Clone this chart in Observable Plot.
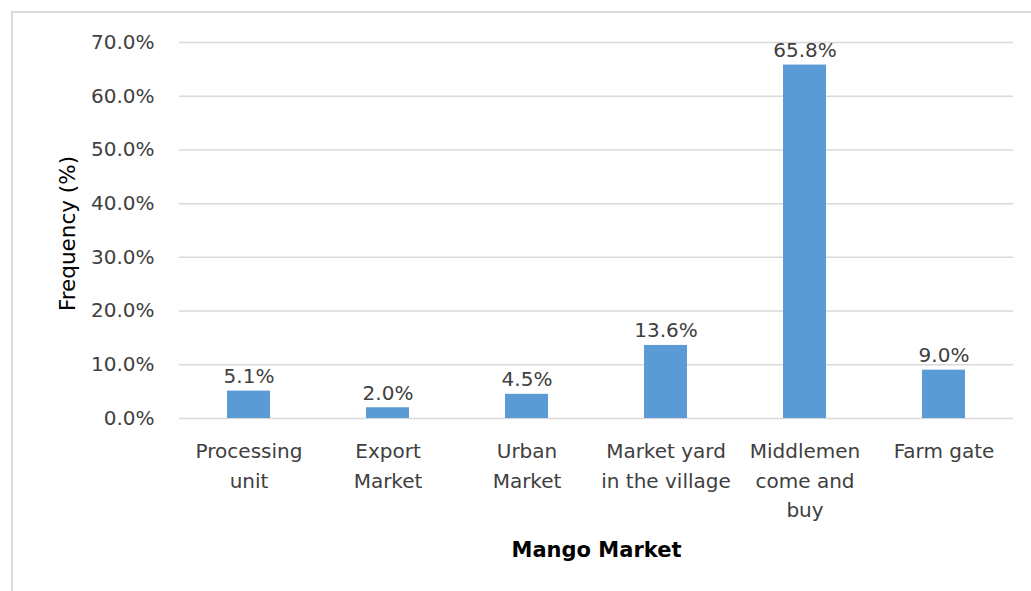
<!DOCTYPE html>
<html>
<head>
<meta charset="utf-8">
<script src="https://cdn.jsdelivr.net/npm/d3@7"></script>
<script src="https://cdn.jsdelivr.net/npm/@observablehq/plot@0.6"></script>
<style>
  html, body { margin: 0; padding: 0; background: #fff; width: 1031px; height: 591px; overflow: hidden; }
  #frame { position: absolute; left: 11px; top: 11px; width: 1040px; height: 600px; border: 2px solid #d9d9d9; box-sizing: border-box; }
  #chart { position: absolute; left: 0; top: 0; }
</style>
</head>
<body>
<div id="frame"></div>
<div id="chart"></div>
<script>
const categories = ["Processing unit", "Export Market", "Urban Market", "Market yard in the village", "Middlemen come and buy", "Farm gate"];
const tickLabels = ["Processing\nunit", "Export\nMarket", "Urban\nMarket", "Market yard\nin the village", "Middlemen\ncome and\nbuy", "Farm gate"];
const values = [5.1, 2.0, 4.5, 13.6, 65.8, 9.0];
const yTicks = [0, 10, 20, 30, 40, 50, 60, 70];

const data = categories.map((c, i) => ({category: c, value: values[i], label: tickLabels[i]}));
const fmt = d => d.toFixed(1) + "%";

const chart = Plot.plot({
  width: 1031,
  height: 591,
  marginLeft: 179,
  marginRight: 18,
  marginTop: 42,
  marginBottom: 173,
  style: {fontFamily: "'DejaVu Sans', sans-serif", fontSize: "20px", color: "#404040", background: "transparent"},
  x: {domain: categories, paddingInner: 0.69, paddingOuter: 0.345, axis: null},
  y: {domain: [0, 70], ticks: yTicks, tickFormat: fmt, label: null},
  marks: [
    Plot.gridY(yTicks, {stroke: "#d9d9d9", strokeOpacity: 1, strokeWidth: 1.5}),
    Plot.axisY(yTicks, {tickSize: 0, tickPadding: 25, tickFormat: fmt, label: null, fontSize: 20, fill: "#404040"}),
    Plot.barY(data, {x: "category", y: "value", fill: "#5b9bd5"}),
    Plot.text(data, {x: "category", y: "value", text: d => fmt(d.value), lineAnchor: "bottom", dy: -8, fontSize: 20, fill: "#404040"}),
    Plot.text(data, {x: "category", text: "label", frameAnchor: "bottom", lineAnchor: "top", dy: 19, lineHeight: 1.475, fontSize: 20, fill: "#404040"}),
    Plot.text(["Frequency (%)"], {frameAnchor: "left", textAnchor: "middle", dx: -111, dy: 3, rotate: -90, fontSize: 21.5, fill: "#000"}),
    Plot.text(["Mango Market"], {frameAnchor: "bottom", dy: 138, fontWeight: "bold", fontSize: 21, fill: "#000"})
  ]
});
document.getElementById("chart").appendChild(chart);
</script>
</body>
</html>
